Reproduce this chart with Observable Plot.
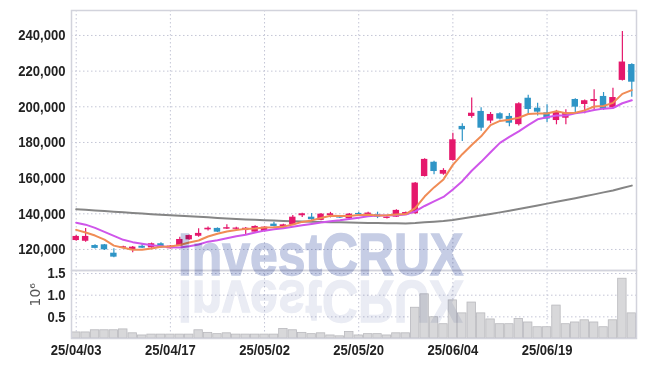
<!DOCTYPE html>
<html><head><meta charset="utf-8">
<script src="https://cdn.jsdelivr.net/npm/d3@7"></script>
<script src="https://cdn.jsdelivr.net/npm/@observablehq/plot@0.6"></script>
<style>
body{margin:0;background:#fff;}
#wrap{position:relative;width:645px;height:366px;overflow:hidden;background:#fff;isolation:isolate;}
#wrap svg{position:absolute;left:0;}
.wm{position:absolute;left:178px;top:225px;display:inline-block;font-family:"Liberation Sans",Arial,sans-serif;font-weight:bold;font-size:60px;line-height:60px;white-space:nowrap;pointer-events:none;mix-blend-mode:multiply;}
</style></head>
<body>
<div id="wrap"></div>
<script>
const dates = ["25/04/03","25/04/04","25/04/07","25/04/08","25/04/09","25/04/10","25/04/11","25/04/14","25/04/15","25/04/16",
"25/04/17","25/04/18","25/04/21","25/04/22","25/04/23","25/04/24","25/04/25","25/04/28","25/04/29","25/04/30",
"25/05/02","25/05/07","25/05/08","25/05/09","25/05/12","25/05/13","25/05/14","25/05/15","25/05/16","25/05/19",
"25/05/20","25/05/21","25/05/22","25/05/23","25/05/26","25/05/27","25/05/28","25/05/29","25/05/30","25/06/02",
"25/06/04","25/06/05","25/06/09","25/06/10","25/06/11","25/06/12","25/06/13","25/06/16","25/06/17","25/06/18",
"25/06/19","25/06/20","25/06/23","25/06/24","25/06/25","25/06/26","25/06/27","25/06/30","25/07/01","25/07/02"];
const open  = [125000,124600,122200,122600,117900,120700,119400,121800,120900,123200,120400,121900,125400,127400,131000,131800,131400,131300,130600,129700,130100,134200,131900,133800,138900,138100,136300,139000,138500,137200,140200,139500,139500,137400,138100,139300,140000,160900,168900,162200,169900,189000,194600,197400,192000,196100,194600,190000,204800,199200,196600,192300,193600,204100,201300,203000,205800,199400,214800,223700];
const high  = [127800,131800,122600,122800,120400,121800,121700,123200,123600,123800,122200,126900,128100,131600,132600,132100,133800,132400,132300,133300,132800,135300,134100,139000,140300,140200,140100,140800,138800,140100,140800,140800,140900,138400,142200,141000,157600,170800,169400,165300,185200,190500,205000,199500,196800,196600,196200,202200,206500,202000,201200,198000,198400,204500,203800,209500,208000,210400,242200,224200];
const low   = [124600,124000,120300,119400,115300,120400,118100,120500,120700,120600,120200,121600,125200,126900,130300,129500,131200,130800,127800,129400,129800,132600,131700,133600,137900,136400,136100,137700,137300,137000,139200,139100,137300,137100,137900,139000,139800,160600,161900,161600,169500,180600,193600,186300,190500,192600,188800,189300,195600,194800,191200,189900,189900,196300,196100,198500,198000,198900,214400,205400];
const close = [127300,127300,120600,119800,115700,121500,121300,120700,123200,120900,121900,125600,127800,129000,131900,129700,132200,132000,131900,132900,132500,132900,133800,138100,140000,136700,139800,140000,137600,139800,139500,140400,138100,138100,141900,140700,157200,170500,163700,164300,181500,187100,196400,188000,195700,193100,190800,201700,198500,197000,193100,197000,196600,199800,203400,204100,198500,205200,225100,213800];
const volume = [140000,140000,190000,190000,190000,210000,120000,70000,90000,90000,90000,90000,90000,190000,130000,100000,120000,90000,90000,90000,90000,90000,220000,190000,130000,100000,120000,70000,50000,150000,70000,100000,100000,70000,120000,120000,710000,1020000,490000,330000,880000,580000,830000,580000,440000,330000,330000,450000,370000,260000,260000,760000,330000,370000,420000,370000,260000,420000,1380000,580000];
const ma5  = [131000,129500,127800,125500,122140,120980,119780,119800,120480,121520,121600,122460,123880,125040,127240,128800,130120,130960,131540,131740,132300,132440,132800,134040,135460,136300,137680,138920,138820,138780,139340,139460,139080,139180,139600,139840,143200,149680,154800,159280,167440,173420,178600,183460,189740,192060,192800,193860,195960,196220,196220,197460,196440,196700,197980,200180,200480,202200,207260,209340];
const ma10 = [135000,133900,132100,129900,127600,125400,124100,123200,122400,121830,121290,121120,121840,122760,124380,125200,126290,127420,128290,129490,130550,131280,131880,132790,133600,134300,135060,135860,136430,137120,137820,138570,139000,139000,139190,139590,141330,144380,146990,149440,153640,158310,164140,169130,174510,179750,183110,186230,189710,192980,194140,195130,195150,196330,197100,198200,198970,199320,201980,203660];
const ma60 = [142600,142250,141900,141550,141200,140850,140500,140150,139800,139500,139200,138900,138600,138300,138000,137700,137400,137100,136800,136600,136400,136200,136000,135850,135700,135550,135400,135300,135200,135100,135000,134900,134800,134700,134650,134600,134800,135200,135600,135900,136500,137300,138200,139000,139900,140800,141700,142700,143700,144700,145700,146700,147700,148700,149800,150900,152000,153100,154500,155800];
const priceTicks = [120000,140000,160000,180000,200000,220000,240000];
const volumeTicks = [500000,1000000,1500000];
const tickDates = ["25/04/03","25/04/17","25/05/02","25/05/20","25/06/04","25/06/19"];

const candles = dates.map((d,i)=>({date:d, open:open[i], high:high[i], low:low[i], close:close[i], volume:volume[i], ma5:ma5[i], ma10:ma10[i], ma60:ma60[i]}));
const UP = "#e5186c", DOWN = "#2f95c6";
const col = d => d.close >= d.open ? UP : DOWN;
const FONT = '"Liberation Sans",Arial,sans-serif';
const GRID = {stroke:"#c4c6d6", strokeOpacity:1, strokeDasharray:"1.5,2.5"};
const XS = {type:"band", domain:dates, padding:0, round:false, axis:null};

const price = Plot.plot({
  width:645, height:270, marginLeft:71, marginRight:9, marginTop:10, marginBottom:0,
  style:{fontFamily:FONT, background:"transparent", overflow:"visible"},
  x:XS,
  y:{domain:[108200,254000], axis:null},
  marks:[
    Plot.gridY(priceTicks, GRID),
    Plot.gridX(tickDates, GRID),
    Plot.frame({stroke:"#d2d3dc", strokeWidth:1.5}),
    Plot.axisY(priceTicks, {tickSize:0, tickPadding:6, tickFormat:d3.format(","), fontSize:15, fontWeight:"bold", fill:"#222", label:null}),
    Plot.line(candles, {x:"date", y:"ma60", stroke:"#858585", strokeWidth:2}),
    Plot.ruleX(candles, {x:"date", y1:"low", y2:"high", stroke:col, strokeWidth:1.2}),
    Plot.barY(candles, {x:"date", y1:"open", y2:"close", fill:col, insetLeft:1.5, insetRight:1.5}),
    Plot.line(candles, {x:"date", y:"ma10", stroke:"#cf55ea", strokeWidth:2}),
    Plot.line(candles, {x:"date", y:"ma5", stroke:"#f08c55", strokeWidth:2})
  ]
});
price.style.top = "0px";

const vol = Plot.plot({
  width:645, height:96, marginLeft:71, marginRight:9, marginTop:0, marginBottom:28,
  style:{fontFamily:FONT, background:"transparent", overflow:"visible"},
  x:XS,
  y:{domain:[0,1570000], axis:null},
  marks:[
    Plot.gridY(volumeTicks, GRID),
    Plot.gridX(tickDates, GRID),
    Plot.barY(candles, {x:"date", y:"volume", fill:"#d8d8da", stroke:"#b9b9bd", strokeWidth:0.8, insetLeft:0.5, insetRight:0.5}),
    Plot.frame({stroke:"#d2d3dc", strokeWidth:1.5}),
    Plot.axisY(volumeTicks, {tickSize:0, tickPadding:6, tickFormat:d=>(d/1e6).toFixed(1), fontSize:15, fontWeight:"bold", fill:"#222", label:null}),
    Plot.axisX(tickDates, {tickSize:0, tickPadding:6, fontSize:15, fontWeight:"bold", fill:"#222", label:null}),
    Plot.text(["10⁶"], {frameAnchor:"left", dx:-36, dy:2, rotate:-90, fontSize:14, fontFamily:"DejaVu Sans", fill:"#555"})
  ]
});
vol.style.top = "270px";

const wrap = document.getElementById("wrap");
wrap.appendChild(price);
wrap.appendChild(vol);

// condense the tick labels like the reference's narrow face
for (const t of wrap.querySelectorAll('g[aria-label$="tick label"] text')) {
  const L = t.getComputedTextLength();
  t.setAttribute("textLength", (L * 0.87).toFixed(1));
  t.setAttribute("lengthAdjust", "spacingAndGlyphs");
}

const wm = document.createElement("div");
wm.className = "wm"; wm.textContent = "InvestCRUX";
wm.style.color = "#c6cde5"; wm.style.webkitTextStroke = "1.4px #c6cde5";
const rf = document.createElement("div");
rf.className = "wm"; rf.textContent = "InvestCRUX";
rf.style.color = "#eaecf4"; rf.style.webkitTextStroke = "1.4px #eaecf4";
wrap.appendChild(rf);
wrap.appendChild(wm);
const k = 285 / wm.offsetWidth;
wm.style.transformOrigin = "0 0";
wm.style.transform = `scaleX(${k})`;
rf.style.transformOrigin = "0 53px";
rf.style.transform = `scaleX(${k}) scaleY(-1)`;
</script>
</body></html>
